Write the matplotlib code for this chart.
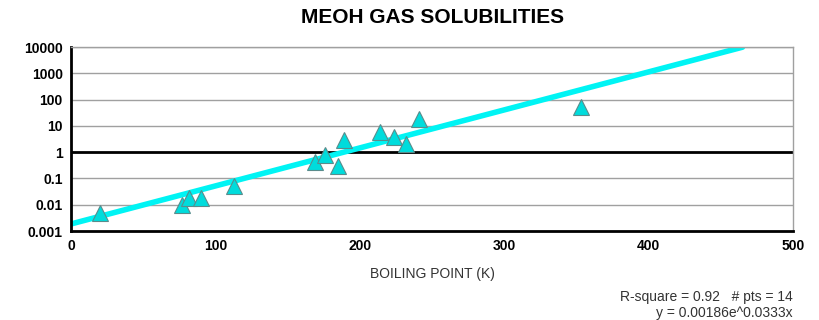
import numpy as np
import matplotlib

matplotlib.use("Agg")
import matplotlib.pyplot as plt
from matplotlib.ticker import FixedLocator, FixedFormatter, NullLocator

plt.rcParams["font.family"] = ["Liberation Sans", "DejaVu Sans"]

# boiling point (K) vs. gas solubility in methanol
bp = [20, 77, 82, 90, 113, 169, 176, 185, 189, 214, 224, 232, 241, 353]
sol = [0.005, 0.01, 0.018, 0.018, 0.05, 0.42, 0.8, 0.3, 2.9, 5.8, 3.7, 2.0, 19, 51]

# exponential fit y = a * exp(b * x)
fit_a = 0.00186
fit_b = 0.0333
fit_x_end = 465
r_square = 0.92

y_ticks = [0.001, 0.01, 0.1, 1, 10, 100, 1000, 10000]
y_labels = ["0.001", "0.01", "0.1", "1", "10", "100", "1000", "10000"]
x_ticks = [0, 100, 200, 300, 400, 500]

fig = plt.figure(figsize=(8.2, 3.2), dpi=100)
ax = fig.add_axes([0.0866, 0.278, 0.8805, 0.575])

ax.set_yscale("log")
ax.set_xlim(0, 500)
ax.set_ylim(0.001, 10000)

for t in y_ticks[1:]:
    if t == 1:
        ax.axhline(t, color="black", linewidth=2, zorder=1)
    else:
        ax.axhline(t, color="#a0a0a0", linewidth=1, zorder=1)

xf = np.linspace(0, fit_x_end, 200)
ax.plot(xf, fit_a * np.exp(fit_b * xf), color="#00f4f4", linewidth=4,
        solid_capstyle="round", zorder=2)

ax.plot(bp, sol, linestyle="none", marker="^", markersize=11,
        markerfacecolor="#00dcdc", markeredgecolor="#5a8c8c",
        markeredgewidth=0.8, zorder=3)

ax.yaxis.set_major_locator(FixedLocator(y_ticks))
ax.yaxis.set_major_formatter(FixedFormatter(y_labels))
ax.yaxis.set_minor_locator(NullLocator())
ax.set_xticks(x_ticks, [str(v) for v in x_ticks])
ax.tick_params(length=0, labelsize=10, pad=6)
for lab in ax.get_xticklabels() + ax.get_yticklabels():
    lab.set_fontweight("bold")

for side in ("left", "bottom"):
    ax.spines[side].set_linewidth(2)
    ax.spines[side].set_color("black")
for side in ("top", "right"):
    ax.spines[side].set_linewidth(1)
    ax.spines[side].set_color("#a0a0a0")

ax.set_xlabel("BOILING POINT (K)", fontsize=10, color="#333333", labelpad=10)
fig.text(0.528, 0.944, "MEOH GAS SOLUBILITIES", ha="center", va="center",
         fontsize=15, fontweight="bold")
fig.text(0.967, 0.047,
         f"R-square = {r_square:.2f}   # pts = {len(bp)}\n"
         f"y = {fit_a}e^{fit_b}x",
         ha="right", va="center", fontsize=10, color="#333333",
         multialignment="right", linespacing=1.25)

fig.savefig("out.png", dpi=100, facecolor="white")
